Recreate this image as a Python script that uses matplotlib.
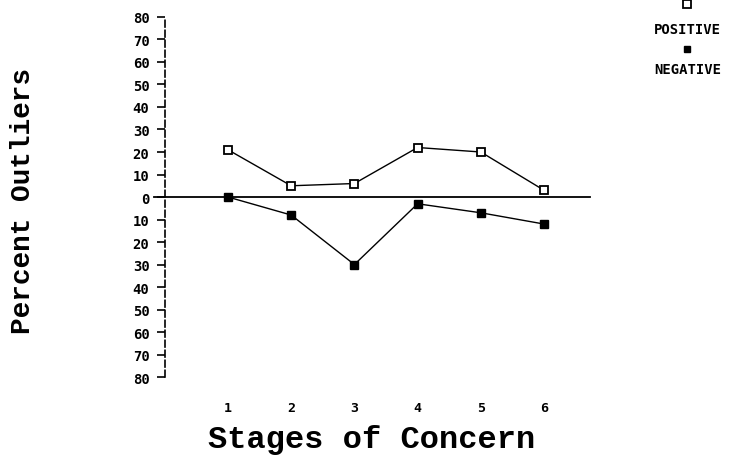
import matplotlib
matplotlib.use("Agg")
import matplotlib.pyplot as plt
from matplotlib.lines import Line2D

stages = [1, 2, 3, 4, 5, 6]
positive = [21, 5, 6, 22, 20, 3]
negative = [0, -8, -30, -3, -7, -12]
yticks = list(range(-80, 81, 10))
ytick_labels = [str(abs(v)) for v in yticks]

fig = plt.figure(figsize=(7.29, 4.6), dpi=100)
ax = fig.add_axes([0.226, 0.178, 0.607, 0.783])
ax.set_xlim(0, 7)
ax.set_ylim(-80, 80)

ax.axhline(0, xmin=-0.025, xmax=0.96, color="black", lw=1.3, clip_on=False)
ax.plot(stages, positive, color="black", lw=1.0, marker="s", ms=6,
        mfc="white", mec="black", mew=1.3)
ax.plot(stages, negative, color="black", lw=1.0, marker="s", ms=6,
        mfc="black", mec="black")

for s in ["top", "right", "bottom"]:
    ax.spines[s].set_visible(False)
ax.spines["left"].set_linewidth(1.2)
ax.spines["left"].set_linestyle((0, (4, 2)))

ax.set_yticks(yticks)
ax.set_yticklabels(ytick_labels, fontfamily="DejaVu Sans Mono", fontweight="bold", fontsize=10)
ax.tick_params(axis="y", direction="out", length=6, width=1.2, pad=5)
ax.set_xticks(stages)
ax.set_xticklabels([str(s) for s in stages], fontfamily="DejaVu Sans Mono",
                   fontweight="bold", fontsize=9.5)
ax.tick_params(axis="x", length=0, pad=17)

fig.text(0.510, 0.026, "Stages of Concern", ha="center", va="baseline",
         fontfamily="Liberation Mono", fontweight="bold", fontsize=23)
fig.text(0.031, 0.563, "Percent Outliers", ha="center", va="center", rotation=90,
         fontfamily="Liberation Mono", fontweight="bold", fontsize=20)

# legend
fig.add_artist(Line2D([0.942], [0.99], marker="s", ms=6, mfc="white", mec="black",
                      mew=1.3, transform=fig.transFigure, clip_on=False))
fig.text(0.943, 0.935, "POSITIVE", ha="center", va="center",
         fontfamily="DejaVu Sans Mono", fontweight="bold", fontsize=10)
fig.add_artist(Line2D([0.942], [0.891], marker="s", ms=5, mfc="black", mec="black",
                      transform=fig.transFigure, clip_on=False))
fig.text(0.943, 0.848, "NEGATIVE", ha="center", va="center",
         fontfamily="DejaVu Sans Mono", fontweight="bold", fontsize=10)

fig.savefig("out.png", dpi=100, facecolor="white")
